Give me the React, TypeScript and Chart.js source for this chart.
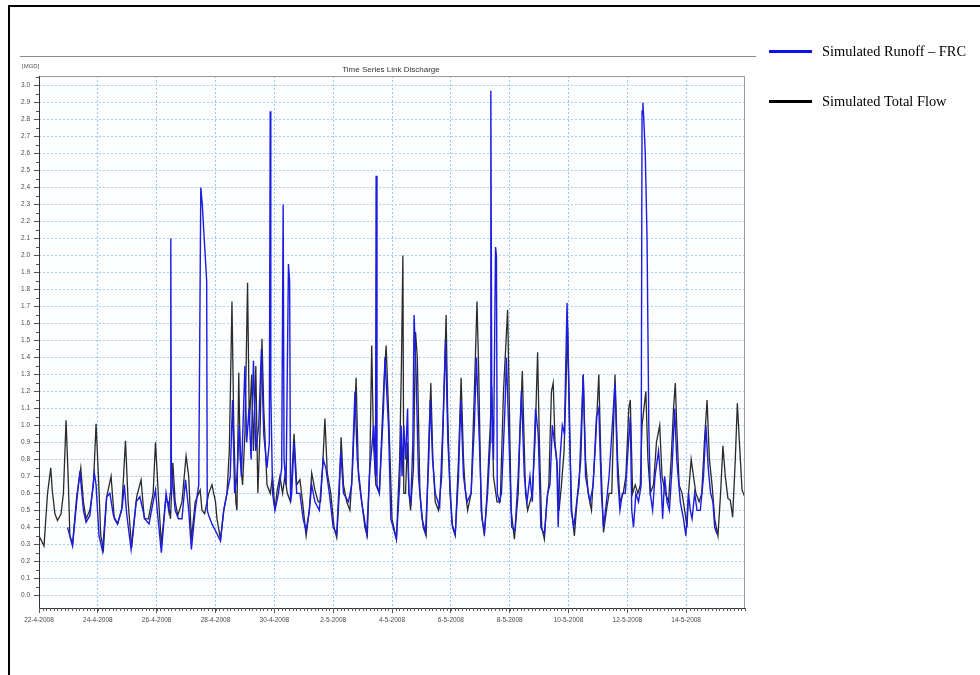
import React, { useEffect, useRef } from 'react';
import { Chart, registerables } from 'chart.js';

Chart.register(...registerables);

// x values are days since 22-4-2008 00:00
const X_TICK_DAYS = [0, 2, 4, 6, 8, 10, 12, 14, 16, 18, 20, 22];
const X_TICK_LABELS = ['22-4-2008', '24-4-2008', '26-4-2008', '28-4-2008', '30-4-2008', '2-5-2008', '4-5-2008', '6-5-2008', '8-5-2008', '10-5-2008', '12-5-2008', '14-5-2008'];
const Y_TICKS = [0.0, 0.1, 0.2, 0.3, 0.4, 0.5, 0.6, 0.7, 0.8, 0.9, 1.0, 1.1, 1.2, 1.3, 1.4, 1.5, 1.6, 1.7, 1.8, 1.9, 2.0, 2.1, 2.2, 2.3, 2.4, 2.5, 2.6, 2.7, 2.8, 2.9, 3.0];

const SERIES_LABELS = ['Simulated Runoff \u2013 FRC', 'Simulated Total Flow'];

const totalFlowDays = [
  0.00, 0.17, 0.29, 0.40, 0.45, 0.54, 0.63, 0.75, 0.83, 0.92, 1.00, 1.05, 1.14, 1.28, 1.42, 1.51, 1.60, 1.73, 1.85, 1.94,
  2.02, 2.10, 2.19, 2.30, 2.45, 2.56, 2.67, 2.81, 2.94, 3.03, 3.15, 3.32, 3.47, 3.58, 3.72, 3.88, 3.96, 4.07, 4.16, 4.30,
  4.39, 4.47, 4.55, 4.63, 4.72, 4.86, 5.00, 5.09, 5.18, 5.31, 5.48, 5.54, 5.63, 5.77, 5.88, 6.00, 6.05, 6.17, 6.28, 6.39,
  6.47, 6.56, 6.62, 6.69, 6.73, 6.79, 6.84, 6.92, 7.00, 7.09, 7.15, 7.23, 7.29, 7.37, 7.44, 7.52, 7.58, 7.64, 7.75, 7.86,
  7.94, 8.02, 8.10, 8.19, 8.28, 8.36, 8.44, 8.55, 8.67, 8.76, 8.87, 8.96, 9.08, 9.19, 9.27, 9.38, 9.49, 9.57, 9.64, 9.72,
  9.80, 9.92, 10.03, 10.12, 10.21, 10.27, 10.35, 10.46, 10.57, 10.66, 10.78, 10.86, 10.97, 11.08, 11.16, 11.25, 11.31, 11.37, 11.45, 11.57,
  11.71, 11.80, 11.88, 12.00, 12.15, 12.26, 12.32, 12.37, 12.40, 12.46, 12.52, 12.58, 12.63, 12.73, 12.80, 12.86, 12.95, 13.06, 13.16, 13.25,
  13.32, 13.39, 13.47, 13.58, 13.69, 13.77, 13.84, 13.89, 13.97, 14.06, 14.15, 14.26, 14.35, 14.43, 14.49, 14.57, 14.69, 14.80, 14.89, 14.95,
  15.03, 15.14, 15.23, 15.34, 15.39, 15.45, 15.57, 15.68, 15.79, 15.93, 15.98, 16.05, 16.16, 16.29, 16.35, 16.43, 16.50, 16.54, 16.61, 16.69,
  16.77, 16.86, 16.95, 17.01, 17.09, 17.18, 17.26, 17.33, 17.42, 17.48, 17.54, 17.62, 17.68, 17.76, 17.85, 17.91, 17.97, 18.03, 18.11, 18.20,
  18.31, 18.42, 18.50, 18.58, 18.67, 18.78, 18.92, 19.03, 19.10, 19.19, 19.29, 19.38, 19.47, 19.58, 19.67, 19.75, 19.86, 19.95, 20.05, 20.10,
  20.18, 20.27, 20.36, 20.44, 20.50, 20.63, 20.70, 20.78, 20.89, 20.99, 21.10, 21.18, 21.29, 21.40, 21.49, 21.57, 21.63, 21.68, 21.76, 21.86,
  21.95, 22.03, 22.08, 22.17, 22.25, 22.33, 22.44, 22.53, 22.62, 22.71, 22.79, 22.88, 22.97, 23.08, 23.17, 23.25, 23.33, 23.42, 23.50, 23.58,
  23.67, 23.74, 23.81, 23.90, 23.99,
];
const totalFlowMGD = [
  0.35, 0.29, 0.60, 0.75, 0.62, 0.48, 0.44, 0.48, 0.60, 1.03, 0.65, 0.35, 0.30, 0.58, 0.75, 0.55, 0.45, 0.50, 0.65, 1.01,
  0.70, 0.35, 0.27, 0.58, 0.70, 0.45, 0.42, 0.50, 0.91, 0.55, 0.28, 0.58, 0.68, 0.45, 0.45, 0.60, 0.90, 0.55, 0.30, 0.55,
  0.55, 0.45, 0.78, 0.55, 0.47, 0.55, 0.82, 0.70, 0.33, 0.55, 0.62, 0.50, 0.48, 0.60, 0.65, 0.55, 0.45, 0.33, 0.50, 0.60,
  0.85, 1.73, 1.00, 0.55, 0.50, 1.31, 0.80, 0.65, 0.95, 1.84, 1.00, 1.30, 0.85, 1.35, 0.60, 1.00, 1.51, 1.10, 0.65, 0.60,
  0.70, 0.50, 0.62, 0.70, 0.60, 0.70, 0.60, 0.55, 0.95, 0.65, 0.68, 0.55, 0.35, 0.50, 0.72, 0.62, 0.55, 0.55, 0.75, 1.04,
  0.72, 0.60, 0.40, 0.34, 0.60, 0.93, 0.65, 0.55, 0.50, 0.75, 1.28, 0.70, 0.55, 0.40, 0.35, 0.80, 1.47, 0.90, 0.65, 0.60,
  1.20, 1.47, 1.10, 0.45, 0.33, 0.80, 1.35, 2.00, 0.60, 0.60, 0.90, 0.60, 0.50, 0.75, 1.55, 1.40, 0.60, 0.40, 0.35, 0.90,
  1.25, 0.80, 0.55, 0.50, 0.70, 1.20, 1.65, 1.10, 0.60, 0.40, 0.35, 0.80, 1.28, 0.80, 0.62, 0.50, 0.60, 1.20, 1.73, 1.30,
  0.50, 0.35, 0.60, 1.00, 1.23, 0.70, 0.55, 0.55, 1.20, 1.68, 1.20, 0.50, 0.33, 0.60, 0.95, 1.32, 0.85, 0.60, 0.50, 0.55,
  0.60, 0.90, 1.43, 0.90, 0.40, 0.33, 0.55, 0.65, 1.20, 1.25, 0.90, 0.75, 0.50, 0.65, 0.85, 1.20, 1.58, 1.00, 0.50, 0.35,
  0.60, 0.80, 1.30, 0.80, 0.60, 0.50, 0.90, 1.30, 0.80, 0.37, 0.50, 0.60, 0.60, 1.30, 0.80, 0.55, 0.60, 0.70, 1.10, 1.15,
  0.60, 0.65, 0.60, 0.65, 1.00, 1.20, 0.80, 0.60, 0.65, 0.90, 1.00, 0.70, 0.60, 0.55, 0.80, 1.10, 1.25, 1.00, 0.65, 0.60,
  0.50, 0.40, 0.60, 0.80, 0.70, 0.60, 0.55, 0.60, 0.90, 1.15, 0.80, 0.65, 0.45, 0.35, 0.60, 0.88, 0.70, 0.57, 0.56, 0.46,
  0.80, 1.13, 0.90, 0.62, 0.58,
];

const runoffDays = [
  0.97, 1.14, 1.28, 1.39, 1.51, 1.60, 1.73, 1.88, 1.94, 2.04, 2.16, 2.30, 2.41, 2.53, 2.67, 2.83, 2.90, 2.98, 3.13, 3.30,
  3.43, 3.60, 3.74, 3.88, 3.96, 4.02, 4.16, 4.32, 4.41, 4.46, 4.48, 4.50, 4.63, 4.74, 4.86, 4.98, 5.09, 5.18, 5.31, 5.43,
  5.50, 5.55, 5.65, 5.70, 5.72, 5.77, 5.88, 6.00, 6.17, 6.28, 6.39, 6.50, 6.58, 6.65, 6.73, 6.81, 6.88, 7.00, 7.06, 7.14,
  7.21, 7.29, 7.37, 7.47, 7.56, 7.64, 7.75, 7.83, 7.86, 7.88, 7.94, 8.02, 8.14, 8.25, 8.30, 8.33, 8.40, 8.48, 8.52, 8.55,
  8.59, 8.67, 8.76, 8.87, 8.98, 9.08, 9.19, 9.27, 9.38, 9.53, 9.66, 9.75, 9.87, 10.00, 10.12, 10.26, 10.35, 10.52, 10.63, 10.74,
  10.82, 10.97, 11.14, 11.25, 11.38, 11.44, 11.46, 11.49, 11.57, 11.71, 11.76, 11.88, 11.96, 12.15, 12.26, 12.31, 12.34, 12.40, 12.46, 12.53,
  12.57, 12.64, 12.71, 12.75, 12.82, 12.90, 13.02, 13.14, 13.25, 13.30, 13.38, 13.47, 13.62, 13.73, 13.82, 13.90, 14.04, 14.15, 14.26, 14.34,
  14.43, 14.55, 14.69, 14.80, 14.87, 14.95, 15.06, 15.14, 15.25, 15.34, 15.36, 15.39, 15.45, 15.52, 15.55, 15.58, 15.65, 15.72, 15.84, 15.89,
  15.98, 16.07, 16.18, 16.29, 16.40, 16.50, 16.59, 16.69, 16.77, 16.88, 16.97, 17.06, 17.18, 17.29, 17.37, 17.45, 17.52, 17.60, 17.65, 17.71,
  17.79, 17.86, 17.95, 18.02, 18.09, 18.18, 18.28, 18.36, 18.50, 18.58, 18.73, 18.84, 18.95, 19.03, 19.12, 19.19, 19.29, 19.38, 19.49, 19.58,
  19.67, 19.75, 19.83, 19.93, 20.02, 20.10, 20.15, 20.21, 20.29, 20.38, 20.47, 20.50, 20.53, 20.56, 20.61, 20.67, 20.73, 20.78, 20.86, 20.94,
  21.06, 21.15, 21.20, 21.27, 21.35, 21.43, 21.52, 21.61, 21.68, 21.80, 21.91, 21.99, 22.08, 22.14, 22.20, 22.29, 22.37, 22.48, 22.59, 22.67,
  22.75, 22.83, 22.91, 22.97, 23.05,
];
const runoffMGD = [
  0.40, 0.29, 0.55, 0.73, 0.50, 0.43, 0.47, 0.72, 0.65, 0.35, 0.26, 0.58, 0.60, 0.47, 0.42, 0.52, 0.65, 0.48, 0.27, 0.55,
  0.58, 0.45, 0.42, 0.55, 0.62, 0.50, 0.25, 0.60, 0.50, 0.60, 2.10, 0.75, 0.50, 0.45, 0.45, 0.68, 0.50, 0.27, 0.50, 0.65,
  2.40, 2.30, 2.00, 1.85, 0.50, 0.47, 0.42, 0.38, 0.32, 0.50, 0.60, 0.70, 1.15, 0.60, 0.70, 1.00, 0.70, 1.35, 0.90, 1.10,
  0.80, 1.38, 0.85, 1.00, 1.45, 0.95, 0.75, 0.90, 2.85, 1.20, 0.60, 0.50, 0.60, 0.75, 2.30, 0.80, 0.65, 1.95, 1.85, 0.55,
  0.60, 0.90, 0.60, 0.60, 0.45, 0.38, 0.50, 0.65, 0.55, 0.50, 0.80, 0.75, 0.60, 0.40, 0.36, 0.85, 0.60, 0.55, 0.65, 1.20,
  0.80, 0.55, 0.36, 0.75, 1.00, 0.70, 2.47, 0.65, 0.60, 1.10, 1.40, 1.00, 0.45, 0.33, 0.65, 1.00, 0.70, 1.00, 0.80, 1.10,
  0.60, 0.55, 0.90, 1.65, 1.30, 0.70, 0.45, 0.37, 0.80, 1.15, 0.80, 0.60, 0.52, 1.00, 1.50, 0.90, 0.42, 0.36, 0.70, 1.15,
  0.70, 0.55, 0.60, 1.00, 1.40, 1.00, 0.45, 0.37, 0.60, 0.90, 2.97, 1.20, 0.80, 2.05, 2.00, 0.60, 0.55, 0.60, 1.10, 1.40,
  0.90, 0.40, 0.38, 0.70, 1.20, 0.70, 0.55, 0.70, 0.55, 1.10, 0.95, 0.40, 0.36, 0.60, 0.65, 1.00, 0.90, 0.80, 0.40, 0.80,
  1.00, 0.95, 1.72, 1.20, 0.50, 0.40, 0.55, 0.65, 1.30, 0.70, 0.55, 0.65, 1.05, 1.10, 0.60, 0.40, 0.55, 0.70, 1.00, 1.25,
  0.70, 0.50, 0.60, 0.60, 0.85, 1.05, 0.50, 0.40, 0.60, 0.55, 0.65, 2.85, 2.90, 2.80, 2.60, 2.10, 1.00, 0.60, 0.50, 0.70,
  0.85, 0.65, 0.45, 0.70, 0.55, 0.50, 0.75, 1.10, 0.80, 0.55, 0.45, 0.35, 0.60, 0.50, 0.45, 0.60, 0.50, 0.50, 0.70, 1.00,
  0.75, 0.60, 0.55, 0.40, 0.36,
];

const BLUE = '#1c1ce0';
const BLACK = '#2a2a2a';
const LEGEND_BLUE = '#1010f0';
const LEGEND_BLACK = '#000000';

const toPoints = (xs: number[], ys: number[]) => xs.map((x, i) => ({ x, y: ys[i] }));

const decorPlugin = {
  id: 'decor',
  beforeDraw(chart: any) {
    const { ctx, chartArea: a } = chart;
    ctx.save();
    ctx.fillStyle = '#ffffff';
    ctx.fillRect(0, 0, chart.width, chart.height);
    ctx.fillStyle = '#fbfdff';
    ctx.fillRect(a.left, a.top, a.right - a.left, a.bottom - a.top);
    ctx.restore();
  },
  afterDraw(chart: any) {
    const { ctx, chartArea: a } = chart;
    const xs = chart.scales.x;
    const ys = chart.scales.y;
    ctx.save();
    // outer frame
    ctx.strokeStyle = '#000';
    ctx.lineWidth = 2;
    ctx.beginPath();
    ctx.moveTo(9, 700);
    ctx.lineTo(9, 6);
    ctx.lineTo(990, 6);
    ctx.stroke();
    // separator line
    ctx.strokeStyle = '#8a8a8a';
    ctx.lineWidth = 1;
    ctx.beginPath();
    ctx.moveTo(20, 56.5);
    ctx.lineTo(756, 56.5);
    ctx.stroke();
    // unit + title
    ctx.fillStyle = '#555';
    ctx.font = '6px "Liberation Sans", Arial, sans-serif';
    ctx.textBaseline = 'middle';
    ctx.textAlign = 'left';
    ctx.fillText('[MGD]', 22, 66);
    ctx.fillStyle = '#333';
    ctx.font = '8px "Liberation Sans", Arial, sans-serif';
    ctx.textAlign = 'center';
    ctx.fillText('Time Series Link Discharge', 391, 70);
    // plot border
    ctx.strokeStyle = '#9a9a9a';
    ctx.lineWidth = 1;
    ctx.strokeRect(a.left + 0.5, a.top + 0.5, a.right - a.left - 1, a.bottom - a.top);
    ctx.strokeStyle = '#333';
    ctx.beginPath();
    ctx.moveTo(a.left + 0.5, a.top);
    ctx.lineTo(a.left + 0.5, a.bottom + 0.5);
    ctx.lineTo(a.right, a.bottom + 0.5);
    ctx.stroke();
    // minor ticks
    ctx.strokeStyle = '#555';
    ctx.beginPath();
    for (let i = 0; i < Y_TICKS.length; i++) {
      const py = Math.round(ys.getPixelForValue(Y_TICKS[i] + 0.05)) + 0.5;
      if (py < a.top) continue;
      ctx.moveTo(a.left - 3, py);
      ctx.lineTo(a.left, py);
    }
    const minorPx = (xs.getPixelForValue(1) - xs.getPixelForValue(0)) / 8;
    for (let px = a.left; px <= a.right + 0.1; px += minorPx) {
      const rx = Math.round(px) + 0.5;
      ctx.moveTo(rx, a.bottom);
      ctx.lineTo(rx, a.bottom + 3);
    }
    ctx.stroke();
    // legend
    const ds = chart.data.datasets;
    const legendY = [51.5, 101.5];
    const legendColors = [LEGEND_BLUE, LEGEND_BLACK];
    ctx.font = '14.4px "Liberation Serif", "Times New Roman", serif';
    ctx.textAlign = 'left';
    ctx.textBaseline = 'middle';
    ds.forEach((d: any, i: number) => {
      ctx.strokeStyle = legendColors[i];
      ctx.lineWidth = 3;
      ctx.beginPath();
      ctx.moveTo(769, legendY[i]);
      ctx.lineTo(812, legendY[i]);
      ctx.stroke();
      ctx.fillStyle = '#000';
      ctx.fillText(d.label, 822, legendY[i] + 1);
    });
    ctx.restore();
  },
};

export default function App() {
  const ref = useRef<HTMLCanvasElement | null>(null);
  useEffect(() => {
    if (!ref.current) return;
    const chart = new Chart(ref.current, {
      type: 'line',
      data: {
        datasets: [
          {
            label: SERIES_LABELS[0],
            data: toPoints(runoffDays, runoffMGD),
            borderColor: BLUE,
            borderWidth: 1.4,
            pointRadius: 0,
            tension: 0,
          },
          {
            label: SERIES_LABELS[1],
            data: toPoints(totalFlowDays, totalFlowMGD),
            borderColor: BLACK,
            borderWidth: 1.3,
            pointRadius: 0,
            tension: 0,
          },
        ],
      },
      options: {
        animation: false,
        responsive: false,
        devicePixelRatio: 1,
        layout: { padding: { left: 10, right: 235, top: 76, bottom: 47 } },
        plugins: { legend: { display: false }, tooltip: { enabled: false }, title: { display: false } },
        scales: {
          x: {
            type: 'linear',
            min: 0,
            max: 24,
            afterBuildTicks: (s: any) => {
              s.ticks = X_TICK_DAYS.map((v) => ({ value: v }));
            },
            afterFit: (s: any) => {
              s.height = 20;
            },
            ticks: {
              autoSkip: false,
              maxRotation: 0,
              minRotation: 0,
              padding: 3,
              color: '#4a4a4a',
              font: { size: 6.5, family: '"Liberation Sans", Arial, sans-serif' },
              callback: (v: any) => {
                const i = X_TICK_DAYS.indexOf(Number(v));
                return i >= 0 ? X_TICK_LABELS[i] : '';
              },
            },
            grid: {
              color: '#9ec6ee',
              lineWidth: 1,
              drawTicks: true,
              tickLength: 5,
              tickColor: '#555',
              tickBorderDash: [],
            },
            border: { display: false, dash: [2, 2] },
          },
          y: {
            type: 'linear',
            min: -0.075,
            max: 3.057,
            afterBuildTicks: (s: any) => {
              s.ticks = Y_TICKS.map((v) => ({ value: v }));
            },
            afterFit: (s: any) => {
              s.width = 29;
            },
            ticks: {
              autoSkip: false,
              padding: 4,
              color: '#4a4a4a',
              font: { size: 6.5, family: '"Liberation Sans", Arial, sans-serif' },
              callback: (v: any) => Number(v).toFixed(1),
            },
            grid: {
              color: '#aacdf2',
              lineWidth: 1,
              drawTicks: true,
              tickLength: 5,
              tickColor: '#555',
              tickBorderDash: [],
            },
            border: { display: false, dash: [2, 2] },
          },
        },
      },
      plugins: [decorPlugin],
    });
    return () => chart.destroy();
  }, []);
  return (
    <div style={{ position: 'absolute', left: 0, top: 0, width: 980, height: 675 }}>
      <canvas ref={ref} width={980} height={675} style={{ width: 980, height: 675, display: 'block' }} />
    </div>
  );
}
